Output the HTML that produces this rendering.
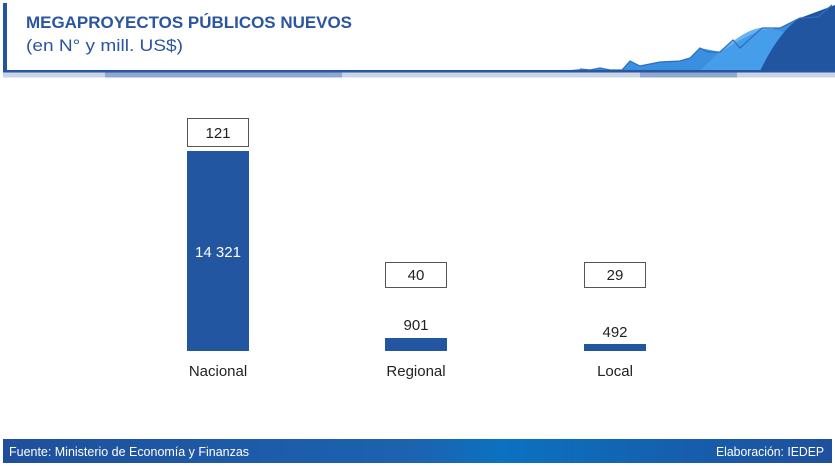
<!DOCTYPE html>
<html><head><meta charset="utf-8"><style>
body{margin:0;width:835px;height:465px;background:#fff;overflow:hidden;font-family:"Liberation Sans",sans-serif}
</style></head><body>
<svg width="835" height="465" xmlns="http://www.w3.org/2000/svg" font-family="Liberation Sans, sans-serif">
<defs>
<linearGradient id="ft" x1="0" x2="1"><stop offset="0" stop-color="#1f4f9c"/><stop offset="0.5" stop-color="#1c63b0"/><stop offset="0.6" stop-color="#0a72c0"/><stop offset="1" stop-color="#1f4f9c"/></linearGradient>
</defs>
<rect x="3" y="3" width="4" height="70" fill="#2255a0"/>
<text x="26" y="28" font-size="17" font-weight="bold" fill="#2a55a0" textLength="326" lengthAdjust="spacingAndGlyphs">MEGAPROYECTOS PÚBLICOS NUEVOS</text>
<text x="26" y="51" font-size="17" fill="#2a55a0" textLength="157" lengthAdjust="spacingAndGlyphs">(en N° y mill. US$)</text>
<!-- decorative mountains -->
<path d="M560 71 L580 69 L590 70 L600 68 L610 70 L622 70 L630 61 L640 66 L660 62 L680 61 L690 58 L700 48 L720 52 L740 40 L760 30 L780 28 L800 18 L820 17 L835 5 L835 72 Z" fill="#3a8fe0"/>
<path d="M700 71 Q740 30 760 28 Q790 28 805 50 L835 72 Z" fill="#4aa0ec" opacity="0.8"/>
<path d="M760 71 Q780 30 800 18 L835 5 L835 72 Z" fill="#2255a0"/>
<polyline points="580,69 590,70 600,68 610,70 622,70 630,61 640,66 660,62 680,61 690,58 700,48 708,52 720,52 733,40 740,48 762,28 780,28 800,18 818,17 832,5" fill="none" stroke="#2b6fc0" stroke-width="1.2"/>
<rect x="3" y="70" width="832" height="2.5" fill="#2a55a0"/>
<rect x="3" y="72.5" width="832" height="5" fill="#c9d4e6"/>
<rect x="105" y="72.5" width="237" height="5" fill="#8fa8cf"/>
<rect x="640" y="72.5" width="97" height="5" fill="#8fa8cf"/>
<!-- bars -->
<rect x="187" y="151" width="62" height="200" fill="#2256a0"/>
<rect x="385" y="338" width="62" height="13" fill="#2256a0"/>
<rect x="584" y="344" width="62" height="7" fill="#2256a0"/>
<rect x="187.5" y="118.5" width="61" height="28" fill="#fff" stroke="#555"/>
<rect x="385.5" y="262.5" width="61" height="25" fill="#fff" stroke="#555"/>
<rect x="584.5" y="262.5" width="61" height="25" fill="#fff" stroke="#555"/>
<g font-size="15" text-anchor="middle" fill="#222">
<text x="218" y="138">121</text>
<text x="416" y="280">40</text>
<text x="615" y="280">29</text>
<text x="218" y="257" fill="#fff">14 321</text>
<text x="416" y="330">901</text>
<text x="615" y="337">492</text>
<text x="218" y="376">Nacional</text>
<text x="416" y="376">Regional</text>
<text x="615" y="376">Local</text>
</g>
<rect x="3" y="439" width="829" height="24" fill="url(#ft)"/>
<text x="9" y="456" font-size="13" fill="#fff" textLength="240" lengthAdjust="spacingAndGlyphs">Fuente: Ministerio de Economía y Finanzas</text>
<text x="824" y="456" font-size="13" fill="#fff" text-anchor="end" textLength="108" lengthAdjust="spacingAndGlyphs">Elaboración: IEDEP</text>
</svg>
</body></html>
